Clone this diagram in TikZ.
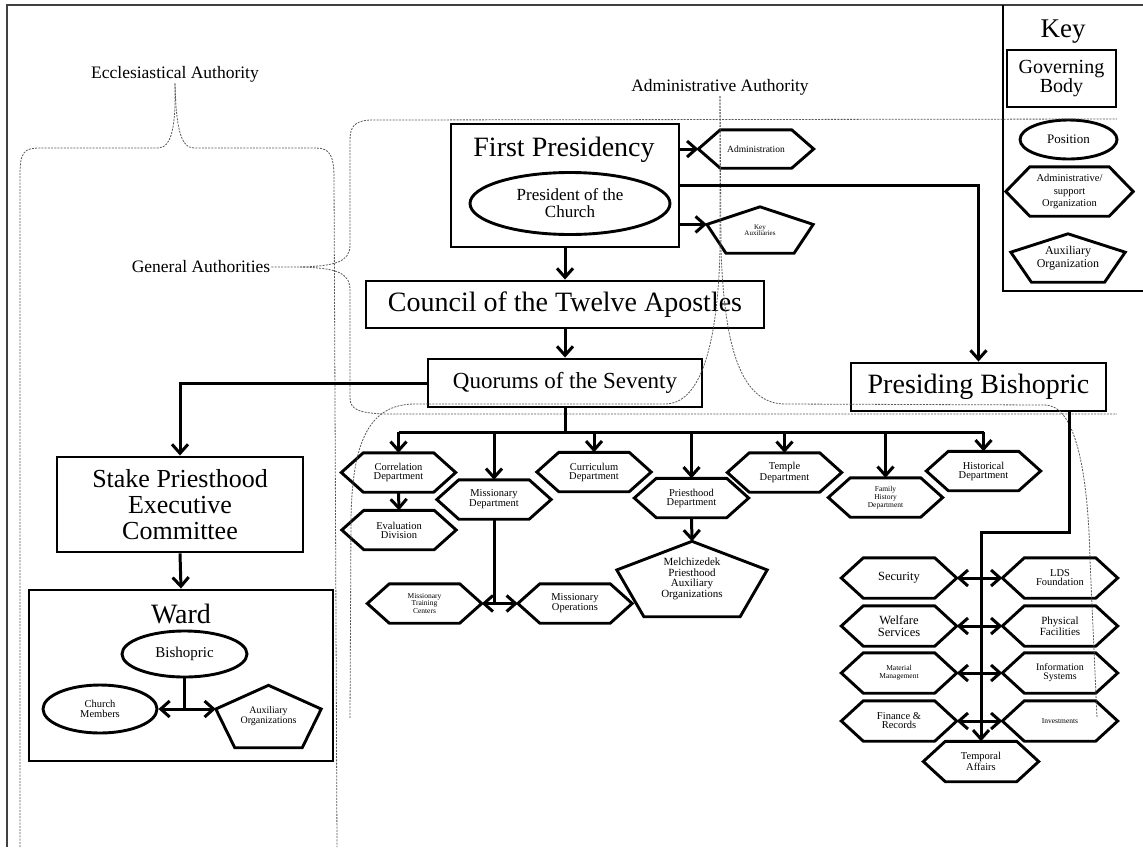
\documentclass[tikz,border=0pt]{standalone}
\usepackage{fontspec}
\setmainfont{Liberation Serif}
\usetikzlibrary{arrows.meta,calc,shapes.geometric}

% outline of an administrative/support organization (hexagon round a node)
\newcommand{\hexoutline}[2][22]{%
  \draw[boxline] (#2.west) -- ($(#2.north west)+(#1,0)$) -- ($(#2.north east)+(-#1,0)$)
    -- (#2.east) -- ($(#2.south east)+(-#1,0)$) -- ($(#2.south west)+(#1,0)$) -- cycle;}
% outline of an auxiliary organization (pentagon round a node)
\newcommand{\pentoutline}[1]{%
  \draw[boxline] (#1.north) -- ($(#1.north west)!0.38!(#1.south west)$) coordinate (#1-l)
    -- ($(#1.south west)!0.18!(#1.south east)$) -- ($(#1.south east)!0.18!(#1.south west)$)
    -- ($(#1.north east)!0.38!(#1.south east)$) coordinate (#1-r) -- cycle;}

\begin{document}
\begin{tikzpicture}[
    x=1pt, y=-1pt,
    >={Straight Barb[length=9pt,width=16pt]},
    boxline/.style={line width=2.9pt, line join=miter},
    govbody/.style={draw, boxline, inner sep=0pt, align=center},
    position/.style={draw, boxline, ellipse, inner sep=0pt, align=center},
    orgnode/.style={inner sep=0pt, align=center},
    deptorg/.style={orgnode, minimum width=114pt, minimum height=39pt, font=\fontsize{10.5}{9}\selectfont},
    temporg/.style={orgnode, minimum width=115pt, minimum height=40pt, font=\fontsize{11}{11}\selectfont},
    link/.style={line width=3pt},
    authbrace/.style={line width=0.8pt, black!65, dash pattern=on 2pt off 1.2pt},
    authlabel/.style={inner sep=1pt, font=\fontsize{17.5}{18}\selectfont}
]
    \useasboundingbox (0,0) rectangle (1143,847);

    % Page frame and key frame
    \draw[line width=1.4pt, black!75] (7,847) -- (7,5) -- (1143,5);
    \draw[boxline] (1003,5) -- (1003,291) -- (1143,291);

    % Authority labels
    \node[authlabel] (eccl) at (175,74) {Ecclesiastical Authority};
    \node[authlabel] (genauth) at (201,267) {General Authorities};
    \node[authlabel] (adminauth) at (720,87) {Administrative Authority};

    % Governing bodies
    \node[govbody, minimum width=228pt, minimum height=123pt] (fp) at (565,185.5) {};
    \node[inner sep=0pt, font=\fontsize{28}{28}\selectfont] (fptitle) at (564,150) {First Presidency};
    \node[position, minimum width=200pt, minimum height=62pt, font=\fontsize{17}{17}\selectfont] (president) at (570,203.5) {President of the\\Church};
    \node[govbody, minimum width=398pt, minimum height=47pt, font=\fontsize{28}{28}\selectfont] (council) at (565,304.5) {Council of the Twelve Apostles};
    \node[govbody, minimum width=274pt, minimum height=48pt, font=\fontsize{23}{23}\selectfont] (quorums) at (565,383) {Quorums of the Seventy};
    \node[govbody, minimum width=255pt, minimum height=48pt, font=\fontsize{28}{28}\selectfont] (presbish) at (978.5,387) {Presiding Bishopric};
    \node[govbody, minimum width=246pt, minimum height=95pt, font=\fontsize{26}{26}\selectfont] (stake) at (180,504.5) {Stake Priesthood\\Executive\\Committee};

    % Ward
    \node[govbody, minimum width=304pt, minimum height=171pt] (ward) at (181,675.5) {};
    \node[inner sep=0pt, font=\fontsize{28}{28}\selectfont] (wardtitle) at (181,613.5) {Ward};
    \node[position, minimum width=125pt, minimum height=46pt, font=\fontsize{15}{15}\selectfont] (bishopric) at (184.5,654) {Bishopric};
    \node[position, minimum width=114pt, minimum height=48pt, font=\fontsize{10.5}{10}\selectfont] (members) at (100,709) {Church\\Members};
    \node[orgnode, minimum width=105pt, minimum height=62pt, font=\fontsize{10}{10}\selectfont] (wardaux) at (268.5,716.5) {Auxiliary\\Organizations};

    % First Presidency organizations
    \node[orgnode, minimum width=115pt, minimum height=38pt, font=\fontsize{9.5}{9.5}\selectfont] (admin) at (756,149) {Administration};
    \node[orgnode, minimum width=106pt, minimum height=46pt, font=\fontsize{7}{6.5}\selectfont] (keyaux) at (760,230) {Key\\Auxiliaries};

    % Departments
    \node[deptorg] (corr) at (398.5,472.5) {Correlation\\Department};
    \node[deptorg] (eval) at (399,530) {Evaluation\\Division};
    \node[deptorg] (miss) at (494,499.5) {Missionary\\Department};
    \node[deptorg] (curr) at (594,472) {Curriculum\\Department};
    \node[deptorg] (priest) at (691.5,498) {Priesthood\\Department};
    \node[deptorg] (temple) at (784.5,472.5) {Temple\\Department};
    \node[deptorg, font=\fontsize{7.5}{8}\selectfont] (famhist) at (885.5,497.5) {Family\\History\\Department};
    \node[deptorg] (hist) at (983.5,471) {Historical\\Department};
    \node[deptorg, font=\fontsize{7.5}{7.7}\selectfont] (mtc) at (424.5,603.5) {Missionary\\Training\\Centers};
    \node[deptorg] (mops) at (575,603.5) {Missionary\\Operations};
    \node[orgnode, minimum width=150pt, minimum height=75pt, font=\fontsize{11}{10.5}\selectfont] (melch) at (692,579) {Melchizedek\\Priesthood\\Auxiliary\\Organizations};

    % Temporal affairs
    \node[temporg, font=\fontsize{12.5}{12}\selectfont] (security) at (899,578) {Security};
    \node[temporg, font=\fontsize{12.5}{12}\selectfont] (welfare) at (899,626) {Welfare\\Services};
    \node[temporg, font=\fontsize{7.5}{8}\selectfont] (material) at (899,673) {Material\\Management};
    \node[temporg, font=\fontsize{10.5}{9}\selectfont] (finance) at (899,721) {Finance \&\\Records};
    \node[temporg, font=\fontsize{10.5}{9}\selectfont] (ldsfound) at (1060,578) {LDS\\Foundation};
    \node[temporg] (physfac) at (1060,626) {Physical\\Facilities};
    \node[temporg, font=\fontsize{10}{9}\selectfont] (infosys) at (1060,673) {Information\\Systems};
    \node[temporg, font=\fontsize{7.5}{8}\selectfont] (invest) at (1060,721) {Investments};
    \node[temporg, font=\fontsize{10.5}{9.5}\selectfont] (temporal) at (981,761.5) {Temporal\\Affairs};

    % Key
    \node[inner sep=0pt, font=\fontsize{27}{27}\selectfont] (keytitle) at (1063,32) {Key};
    \node[govbody, minimum width=109pt, minimum height=57pt, font=\fontsize{20}{19}\selectfont] (keygov) at (1061.5,78.5) {Governing\\Body};
    \node[position, minimum width=97pt, minimum height=39pt, font=\fontsize{13}{13}\selectfont] (keypos) at (1068.5,139.5) {Position};
    \node[orgnode, minimum width=127pt, minimum height=49pt, font=\fontsize{10.5}{12.5}\selectfont] (keyadmin) at (1069.5,191.5) {Administrative/\\support\\Organization};
    \node[orgnode, minimum width=114pt, minimum height=48pt, font=\fontsize{12}{12.5}\selectfont] (keyauxorg) at (1068,258) {Auxiliary\\Organization};

    % Outlines
    \foreach \n in {admin,corr,eval,miss,curr,priest,temple,famhist,hist,mtc,mops,
                    security,welfare,material,finance,ldsfound,physfac,infosys,invest,temporal}
        \hexoutline{\n};
    \hexoutline[24]{keyadmin}
    \foreach \n in {keyaux,melch,wardaux,keyauxorg}
        \pentoutline{\n};

    % Authority braces
    \draw[authbrace] (20,847) -- (20,175) .. controls (20,152) and (24,148) .. (40,148) -- (158,148)
        .. controls (172,148) and (176,125) .. (eccl.south);
    \draw[authbrace] (eccl.south) .. controls (176,125) and (180,148) .. (194,148) -- (316,148)
        .. controls (330,148) and (334,156) .. (334,178) -- (337,847);
    \draw[authbrace] (genauth.east) -- (300,267) .. controls (335,266) and (350,262) .. (350,245)
        -- (350,140) .. controls (350,126) and (355,121) .. (370,120) -- (1117,119);
    \draw[authbrace] (300,267) .. controls (335,268) and (350,272) .. (350,290)
        -- (350,398) .. controls (350,410) and (360,413) .. (385,414) -- (1117,414);
    \draw[authbrace] (adminauth.south) -- (720,250) .. controls (718,330) and (705,404) .. (665,404)
        -- (415,404) .. controls (370,404) and (352,440) .. (351,520) -- (350,718);
    \draw[authbrace] (adminauth.south) -- (721,250) .. controls (724,330) and (735,404) .. (785,404)
        -- (1045,405) .. controls (1075,405) and (1088,470) .. (1090,560) -- (1097,718);

    % Ecclesiastical line
    \draw[->, link] (fp.east |- admin.west) -- (admin.west);
    \draw[->, link] (fp.east |- keyaux-l) -- (keyaux-l);
    \draw[->, link] (fp.east) -| (presbish.north);
    \draw[->, link] (fp.south) -- (council.north);
    \draw[->, link] (council.south) -- (quorums.north);
    \draw[->, link] (quorums.west) -| (stake.north);
    \draw[->, link] (stake.south) -- (ward.north);
    \draw[link] (bishopric.south) -- (bishopric.south |- members.east);
    \draw[<->, link] (members.east) -- (members.east -| wardaux-l);

    % Departments under the Seventy
    \coordinate (deptbus) at (565,432);
    \draw[link] (quorums.south) -- (deptbus);
    \draw[link] (corr.north |- deptbus) -- (hist.north |- deptbus);
    \foreach \n in {corr,miss,curr,priest,temple,famhist,hist}
        \draw[->, link] (\n.north |- deptbus) -- (\n.north);
    \draw[->, link] (corr.south) -- (eval.north);
    \draw[->, link] (priest.south) -- (melch.north);
    \draw[link] (miss.south) -- (miss.south |- mtc.east);
    \draw[<->, link] (mtc.east) -- (mops.west);

    % Temporal affairs under the Presiding Bishopric
    \draw[->, link] ($(presbish.south east)+(-38,0)$) -- ++(0,120) -| (temporal.north);
    \foreach \a/\b in {security/ldsfound,welfare/physfac,material/infosys,finance/invest}
        \draw[<->, link] (\a.east) -- (\b.west);
\end{tikzpicture}
\end{document}
